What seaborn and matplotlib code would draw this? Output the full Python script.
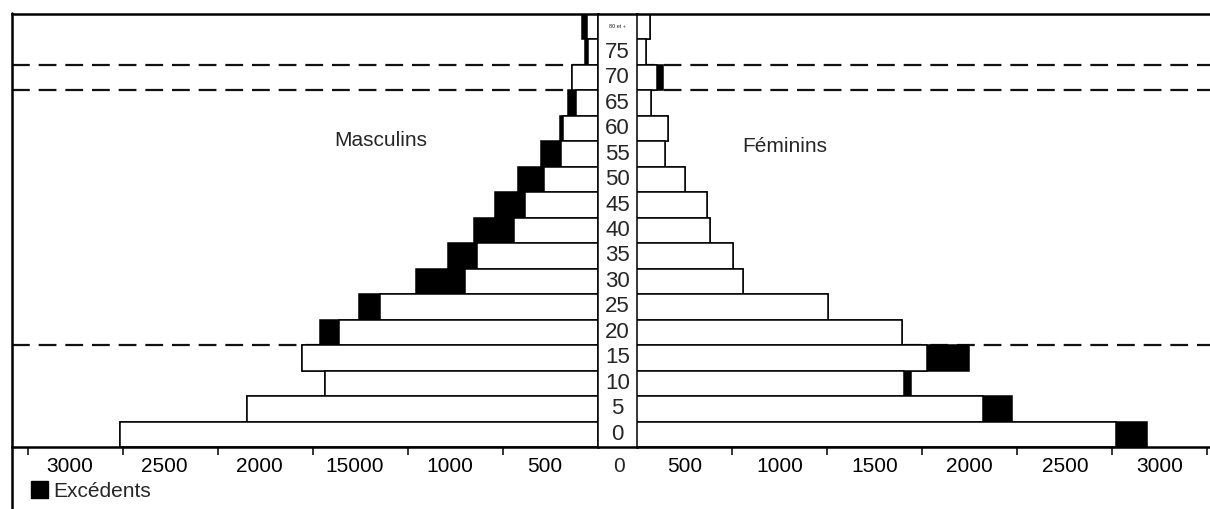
import matplotlib
matplotlib.use("Agg")
import matplotlib.pyplot as plt
import seaborn as sns
from matplotlib.lines import Line2D
from matplotlib.patches import Patch

# Pyramide des âges : parties blanches + excédents (noir)
ages = ['0', '5', '10', '15', '20', '25', '30', '35', '40',
        '45', '50', '55', '60', '65', '70', '75', '80 et +']
hommes = [2516, 1846, 1434, 1556, 1363, 1146, 698, 637, 439,
          383, 283, 193, 181, 114, 137, 49, 55]
exc_hommes = [0, 0, 0, 0, 98, 111, 258, 153, 212,
              157, 135, 107, 17, 44, 0, 18, 29]
femmes = [2518, 1817, 1405, 1523, 1391, 1001, 558, 502, 383,
          365, 251, 146, 160, 70, 105, 44, 66]
exc_femmes = [162, 153, 33, 223, 0, 0, 0, 0, 0,
              0, 0, 0, 0, 0, 32, 0, 0]

ticks = [500, 1000, 1500, 2000, 2500, 3000]
labels_g = ['500', '1000', '15000', '2000', '2500', '3000']
labels_d = ['500', '1000', '1500', '2000', '2500', '3000']

sns.set_theme(style="white")
plt.rcParams['font.family'] = ['Liberation Sans', 'DejaVu Sans']

W, H = 1210, 509


def fx(px):
    return px / W


def fy(py):
    return 1 - py / H


fig = plt.figure(figsize=(W / 100, H / 100), dpi=100)
bas, haut = fy(447), fy(14)
ax_l = fig.add_axes([fx(12), bas, fx(597.7) - fx(12), haut - bas])
ax_c = fig.add_axes([fx(597.7), bas, fx(637.3) - fx(597.7), haut - bas])
ax_r = fig.add_axes([fx(637.3), bas, fx(1210) - fx(637.3), haut - bas])

ordre = ages[::-1]
tot_h = [a + b for a, b in zip(hommes, exc_hommes)]
tot_f = [a + b for a, b in zip(femmes, exc_femmes)]

for ax, blanc, total in [(ax_l, hommes, tot_h), (ax_r, femmes, tot_f)]:
    sns.barplot(x=total, y=ages, order=ordre, orient='h', color='black',
                saturation=1, width=1.0, edgecolor='black', linewidth=1.1,
                errorbar=None, ax=ax)
    sns.barplot(x=blanc, y=ages, order=ordre, orient='h', color='white',
                saturation=1, width=1.0, edgecolor='black', linewidth=1.1,
                errorbar=None, ax=ax)
    # lignes pointillées (70-75 et 20 ans)
    for y in [ordre.index('70') - 0.5, ordre.index('70') + 0.5,
              ordre.index('15') - 0.5]:
        ax.axhline(y, color='#111111', linestyle=(0, (8, 4)), lw=1.6,
                   zorder=0.5)
    ax.set_xlabel('')
    ax.set_ylabel('')
    ax.tick_params(left=False, labelleft=False)
    for s in ['left', 'right']:
        ax.spines[s].set_visible(False)
    for s in ['top', 'bottom']:
        ax.spines[s].set_linewidth(1.8)
        ax.spines[s].set_color('black')

ax_l.set_xlim(3083, 0)
ax_r.set_xlim(0, 3014)

# graduations : traits aux valeurs, étiquettes décalées vers le centre
ax_l.set_xticks(ticks)
ax_l.set_xticklabels([])
ax_l.set_xticks([t - 220 for t in ticks], labels_g, minor=True)
ax_r.set_xticks(ticks)
ax_r.set_xticklabels([])
ax_r.set_xticks([t - 250 for t in ticks], labels_d, minor=True)
for ax in [ax_l, ax_r]:
    ax.tick_params(axis='x', which='major', direction='out', length=6,
                   width=1.1, color='black', bottom=True)
    ax.tick_params(axis='x', which='minor', length=0, pad=7, labelsize=15,
                   labelcolor='black', bottom=True)

# colonne centrale des âges
ax_c.set_ylim(ax_l.get_ylim())
ax_c.set_xlim(0, 1)
for i, a in enumerate(ordre):
    if a == '80 et +':
        ax_c.text(0.5, i, a, ha='center', va='center', fontsize=4)
    else:
        ax_c.text(0.5, i, a, ha='center', va='center', fontsize=16)
ax_c.set_yticks([])
ax_c.set_xticks([0.55], ['0'])
ax_c.tick_params(axis='x', length=0, pad=7, labelsize=15)
for s in ['left', 'right']:
    ax_c.spines[s].set_linewidth(1.1)
    ax_c.spines[s].set_color('black')
for s in ['top', 'bottom']:
    ax_c.spines[s].set_linewidth(1.8)
    ax_c.spines[s].set_color('black')

# cadre gauche
fig.add_artist(Line2D([fx(12), fx(12)], [0, fy(13)], color='black', lw=1.8))

fig.text(fx(381), fy(141), 'Masculins', ha='center', va='center', fontsize=15)
fig.text(fx(785), fy(147), 'Féminins', ha='center', va='center', fontsize=15)

fig.legend(handles=[Patch(facecolor='black', edgecolor='black')],
           labels=['Excédents'], loc='center left',
           bbox_to_anchor=(fx(31), fy(491)), frameon=False, fontsize=15,
           handlelength=0.8, handleheight=0.85, handletextpad=0.25,
           borderpad=0, borderaxespad=0)

fig.savefig('out.png', dpi=100)
